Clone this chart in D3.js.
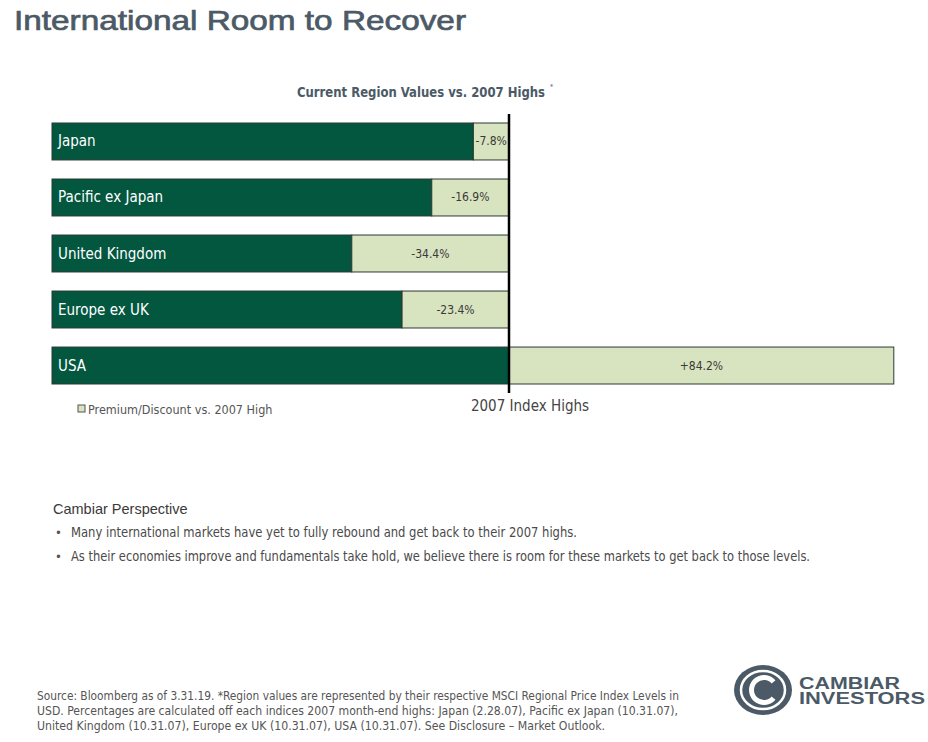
<!DOCTYPE html>
<html><head><meta charset="utf-8">
<script src="https://cdn.jsdelivr.net/npm/d3@7"></script>
<style>
body{margin:0;background:#fff;}
svg{display:block;}
</style></head>
<body>
<svg id="c" width="928" height="742"></svg>
<script>
const regions = ["Japan","Pacific ex Japan","United Kingdom","Europe ex UK","USA"];
const premium = [-7.8,-16.9,-34.4,-23.4,84.2];
const labels = ["-7.8%","-16.9%","-34.4%","-23.4%","+84.2%"];
const bullets = [
 "Many international markets have yet to fully rebound and get back to their 2007 highs.",
 "As their economies improve and fundamentals take hold, we believe there is room for these markets to get back to those levels."
];
const footnote = [
 "Source: Bloomberg as of 3.31.19. *Region values are represented by their respective MSCI Regional Price Index Levels in",
 "USD. Percentages are calculated off each indices 2007 month-end highs:  Japan (2.28.07), Pacific ex Japan (10.31.07),",
 "United Kingdom (10.31.07), Europe ex UK (10.31.07), USA (10.31.07).  See Disclosure – Market Outlook."
];

const svg = d3.select("#c");
const narrow = "'Liberation Sans Narrow','DejaVu Sans Condensed','Roboto Condensed',sans-serif";
const DARK="#03573f", LIGHT="#d8e3bf", SLATE="#4b5a66";

svg.append("text").attr("x",14).attr("y",30).attr("font-family","'Liberation Sans',Arial,sans-serif")
  .attr("font-size",28).attr("fill",SLATE).attr("stroke",SLATE).attr("stroke-width",0.7)
  .attr("textLength",452).attr("lengthAdjust","spacingAndGlyphs")
  .text("International Room to Recover");

svg.append("text").attr("x",297).attr("y",97)
  .attr("font-family",narrow).attr("font-weight","bold").attr("font-size",14.5).attr("fill",SLATE)
  .attr("textLength",248).attr("lengthAdjust","spacingAndGlyphs").text("Current Region Values vs. 2007 Highs");
svg.append("text").attr("x",550).attr("y",89).attr("font-family",narrow).attr("font-size",7)
  .attr("fill",SLATE).text("*");

const x = d3.scaleLinear().domain([-100,0]).range([52,509]);
const y = d3.scaleBand().domain(regions).range([123,384]).paddingInner(0.34).paddingOuter(0);

const g = svg.append("g");
const rows = g.selectAll("g.row").data(regions).join("g").attr("class","row");
rows.append("rect").attr("x",x(-100)).attr("y",d=>y(d)).attr("height",y.bandwidth())
  .attr("width",(d,i)=>x(Math.min(0,premium[i]))-x(-100))
  .attr("fill",DARK).attr("stroke","#2b3a33").attr("stroke-width",1);
rows.append("rect").attr("x",(d,i)=>x(Math.min(0,premium[i]))).attr("y",d=>y(d)).attr("height",y.bandwidth())
  .attr("width",(d,i)=>Math.abs(x(premium[i])-x(0)))
  .attr("fill",LIGHT).attr("stroke","#2b3a33").attr("stroke-width",1);
rows.append("text").attr("x",x(-100)+6).attr("y",d=>y(d)+y.bandwidth()/2+5)
  .attr("font-family",narrow).attr("font-size",15).attr("fill","#fff").text(d=>d);
rows.append("text").attr("x",(d,i)=>(x(premium[i])+x(0))/2).attr("y",d=>y(d)+y.bandwidth()/2+4)
  .attr("text-anchor","middle").attr("font-family",narrow).attr("font-size",12).attr("fill","#3a3a3a")
  .text((d,i)=>labels[i]);

svg.append("line").attr("x1",x(0)).attr("x2",x(0)).attr("y1",114).attr("y2",393)
  .attr("stroke","#000").attr("stroke-width",2.5);

svg.append("rect").attr("x",78).attr("y",405).attr("width",7).attr("height",7)
  .attr("fill",LIGHT).attr("stroke","#555").attr("stroke-width",1);
svg.append("text").attr("x",88).attr("y",414).attr("font-family",narrow).attr("font-size",12.5)
  .attr("fill","#555").text("Premium/Discount vs. 2007 High");
svg.append("text").attr("x",x(0)+21).attr("y",411).attr("text-anchor","middle").attr("font-family",narrow)
  .attr("font-size",15).attr("fill","#444").text("2007 Index Highs");

svg.append("text").attr("x",53).attr("y",514).attr("font-family","'Liberation Sans',Arial,sans-serif")
  .attr("font-size",14.5).attr("fill","#3a3a3a").text("Cambiar Perspective");
const bulletEnds = [577, 810];
bullets.forEach((b,i)=>{
  svg.append("text").attr("x",55).attr("y",537+i*24).attr("font-family",narrow).attr("font-size",13).attr("fill","#555").text("•");
  svg.append("text").attr("x",71).attr("y",537+i*24).attr("font-family",narrow).attr("font-size",13.5).attr("fill","#4a4a4a")
    .attr("textLength",bulletEnds[i]-71).attr("lengthAdjust","spacingAndGlyphs").text(b);
});

const footEnds = [679, 678, 605];
footnote.forEach((t,i)=>{
  svg.append("text").attr("x",37).attr("y",700+i*15).attr("font-family",narrow).attr("font-size",12)
    .attr("fill","#555").attr("textLength",footEnds[i]-37).attr("lengthAdjust","spacingAndGlyphs").text(t);
});

// logo
const lg = svg.append("g");
lg.append("ellipse").attr("cx",763).attr("cy",690).attr("rx",29).attr("ry",25).attr("fill",SLATE);
lg.append("ellipse").attr("cx",763).attr("cy",690).attr("rx",22).attr("ry",19).attr("fill","none").attr("stroke","#fff").attr("stroke-width",2.5);
lg.append("path").attr("d",d3.arc().innerRadius(10).outerRadius(15).startAngle(0.7).endAngle(Math.PI*2-0.7)()).attr("transform","translate(764,690) rotate(90)").attr("fill","#fff");
lg.append("text").attr("x",799).attr("y",688.5).attr("font-family","'Liberation Sans',Arial,sans-serif").attr("font-weight","bold")
  .attr("font-size",16).attr("fill",SLATE).attr("textLength",101).attr("lengthAdjust","spacingAndGlyphs").text("CAMBIAR");
lg.append("text").attr("x",799).attr("y",703.5).attr("font-family","'Liberation Sans',Arial,sans-serif").attr("font-weight","bold")
  .attr("font-size",16).attr("fill",SLATE).attr("textLength",126).attr("lengthAdjust","spacingAndGlyphs").text("INVESTORS");
</script>
</body></html>
